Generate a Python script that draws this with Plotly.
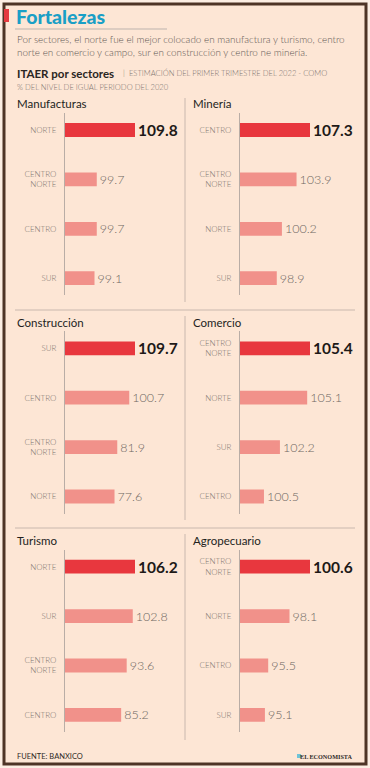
import plotly.graph_objects as go

# ---------------- data ----------------
panel_titles = ["Manufacturas", "Minería", "Construcción", "Comercio", "Turismo", "Agropecuario"]
panel_regions = [
    ["NORTE", "CENTRO NORTE", "CENTRO", "SUR"],
    ["CENTRO", "CENTRO NORTE", "NORTE", "SUR"],
    ["SUR", "CENTRO", "CENTRO NORTE", "NORTE"],
    ["CENTRO NORTE", "NORTE", "SUR", "CENTRO"],
    ["NORTE", "SUR", "CENTRO NORTE", "CENTRO"],
    ["CENTRO NORTE", "NORTE", "CENTRO", "SUR"],
]
panel_values = [
    [109.8, 99.7, 99.7, 99.1],
    [107.3, 103.9, 100.2, 98.9],
    [109.7, 100.7, 81.9, 77.6],
    [105.4, 105.1, 102.2, 100.5],
    [106.2, 102.8, 93.6, 85.2],
    [100.6, 98.1, 95.5, 95.1],
]
# value at which each panel's value axis starts (the original uses a different scale per panel)
axis_start = [91.3, 89.6, 0.0, 97.95, 0.0, 92.06]

title_text = "Fortalezas"
subtitle_text = ("Por sectores, el norte fue el mejor colocado en manufactura y turismo, centro<br>"
                 "norte en comercio y campo, sur en construcción y centro ne minería.")
chart_title = "ITAER por sectores"
chart_note_1 = "|  ESTIMACIÓN DEL PRIMER TRIMESTRE DEL 2022 - COMO"
chart_note_2 = "% DEL NIVEL DE IGUAL PERIODO DEL 2020"
source_text = "FUENTE: BANXICO"
brand_text = "EL ECONOMISTA"

# ---------------- layout helpers ----------------
W, H = 370, 768
FONT = "Lato"
BG = "#FDE6D5"
OUTER = "#FCEEE3"
TOP_RED = "#E8373E"
BAR = "#F1918A"
GRID_GRAY = "#C9B8AE"


def fx(p):
    return p / W


def fy(p):
    return 1 - p / H


row_c1 = [130.0, 348.3, 566.7]
spacing = 49.4
col_axis = [65.0, 240.0]
plot_w = 115.0
max_bar_px = 70.0

fig = go.Figure()
layout_axes = {}
annotations = []

for i in range(6):
    r, c = divmod(i, 2)
    regions = panel_regions[i]
    vals = panel_values[i]
    cats = [s.replace(" ", "<br>") for s in regions]
    lo = axis_start[i]
    hi = lo + (plot_w / max_bar_px) * (max(vals) - lo)
    colors = [TOP_RED if j == 0 else BAR for j in range(len(vals))]
    texts = [("<b>%.1f</b>" % v) if j == 0 else ("%.1f" % v) for j, v in enumerate(vals)]
    tsizes = [15.5 if j == 0 else 12.5 for j in range(len(vals))]
    tcolors = ["#1E1A18" if j == 0 else "#6E6662" for j in range(len(vals))]
    n = "" if i == 0 else str(i + 1)
    fig.add_trace(go.Bar(
        x=vals, y=cats, orientation="h",
        marker=dict(color=colors, line=dict(width=0)),
        width=0.28,
        text=texts, textposition="outside", cliponaxis=False,
        constraintext="none",
        textfont=dict(family=FONT, size=tsizes, color=tcolors, weight=300),
        xaxis="x" + n, yaxis="y" + n,
        hoverinfo="skip", showlegend=False,
    ))
    top = row_c1[r] - 17
    bot = row_c1[r] + 3 * spacing + 17
    left = col_axis[c]
    layout_axes["xaxis" + n] = dict(
        domain=[fx(left), fx(left + plot_w)], range=[lo, hi],
        visible=False, fixedrange=True, anchor="y" + n,
    )
    layout_axes["yaxis" + n] = dict(
        domain=[fy(bot), fy(top)], type="category",
        categoryorder="array", categoryarray=cats,
        range=[3 + 17 / spacing, -17 / spacing],
        showline=True, linecolor="#B9ADA6", linewidth=1,
        showgrid=False, zeroline=False, ticks="",
        ticklabelstandoff=6,
        tickfont=dict(family=FONT, size=8, color="#7A716C", weight=300),
        anchor="x" + n, fixedrange=True,
    )
    # panel title
    annotations.append(dict(
        text=panel_titles[i], x=fx(15 if c == 0 else 191), y=fy(row_c1[r] - 26),
        xref="paper", yref="paper", xanchor="left", yanchor="middle",
        showarrow=False, font=dict(family=FONT, size=11.5, color="#231F1D"),
    ))

shapes = [
    # frame
    dict(type="rect", xref="paper", yref="paper", x0=fx(4), x1=fx(366), y0=fy(764), y1=fy(4),
         line=dict(color="#4E3426", width=3), fillcolor=BG, layer="below"),
    # red marker next to the title
    dict(type="rect", xref="paper", yref="paper", x0=fx(4), x1=fx(9), y0=fy(22), y1=fy(9),
         line=dict(width=0), fillcolor="#E53A3F", layer="above"),
    # title underline
    dict(type="line", xref="paper", yref="paper", x0=fx(15), x1=fx(167), y0=fy(29), y1=fy(29),
         line=dict(color="#BDB3AD", width=1)),
    # horizontal dividers
    dict(type="line", xref="paper", yref="paper", x0=fx(15), x1=fx(355), y0=fy(310), y1=fy(310),
         line=dict(color=GRID_GRAY, width=1)),
    dict(type="line", xref="paper", yref="paper", x0=fx(15), x1=fx(355), y0=fy(528), y1=fy(528),
         line=dict(color=GRID_GRAY, width=1)),
    # vertical dividers
    dict(type="line", xref="paper", yref="paper", x0=fx(185), x1=fx(185), y0=fy(98), y1=fy(302),
         line=dict(color=GRID_GRAY, width=1)),
    dict(type="line", xref="paper", yref="paper", x0=fx(185), x1=fx(185), y0=fy(316), y1=fy(520),
         line=dict(color=GRID_GRAY, width=1)),
    dict(type="line", xref="paper", yref="paper", x0=fx(185), x1=fx(185), y0=fy(534), y1=fy(740),
         line=dict(color=GRID_GRAY, width=1)),
    # small cyan mark before brand
    dict(type="rect", xref="paper", yref="paper", x0=fx(297), x1=fx(301), y0=fy(758), y1=fy(754),
         line=dict(width=0), fillcolor="#6FC3D8"),
]

annotations += [
    dict(text=title_text, x=fx(14), y=fy(16), xref="paper", yref="paper",
         xanchor="left", yanchor="middle", showarrow=False,
         font=dict(family=FONT, size=19.5, color="#1A9FC6", weight=900)),
    dict(text=subtitle_text, x=fx(15), y=fy(45), xref="paper", yref="paper",
         xanchor="left", yanchor="middle", align="left", showarrow=False,
         font=dict(family=FONT, size=9.9, color="#5F5854", weight=300)),
    dict(text="<b>" + chart_title + "</b>", x=fx(15), y=fy(73), xref="paper", yref="paper",
         xanchor="left", yanchor="middle", showarrow=False,
         font=dict(family=FONT, size=11.5, color="#2A2522")),
    dict(text=chart_note_1, x=fx(121), y=fy(73), xref="paper", yref="paper",
         xanchor="left", yanchor="middle", showarrow=False,
         font=dict(family=FONT, size=7.6, color="#7B726D", weight=300)),
    dict(text=chart_note_2, x=fx(15), y=fy(87), xref="paper", yref="paper",
         xanchor="left", yanchor="middle", showarrow=False,
         font=dict(family=FONT, size=7.6, color="#7B726D", weight=300)),
    dict(text=source_text, x=fx(15), y=fy(756), xref="paper", yref="paper",
         xanchor="left", yanchor="middle", showarrow=False,
         font=dict(family=FONT, size=7.5, color="#2F2A27")),
    dict(text="<b>" + brand_text + "</b>", x=fx(355), y=fy(756), xref="paper", yref="paper",
         xanchor="right", yanchor="middle", showarrow=False,
         font=dict(family="Liberation Serif", size=6.2, color="#2F2A27")),
]

fig.update_layout(
    width=W, height=H,
    margin=dict(l=0, r=0, t=0, b=0),
    paper_bgcolor=OUTER, plot_bgcolor="rgba(0,0,0,0)",
    shapes=shapes, annotations=annotations,
    bargap=0.7, showlegend=False,
    **layout_axes,
)

fig.write_html(
    "out.html",
    config={"displayModeBar": False},
    post_script="document.body.style.margin='0';document.body.style.overflow='hidden';",
)
